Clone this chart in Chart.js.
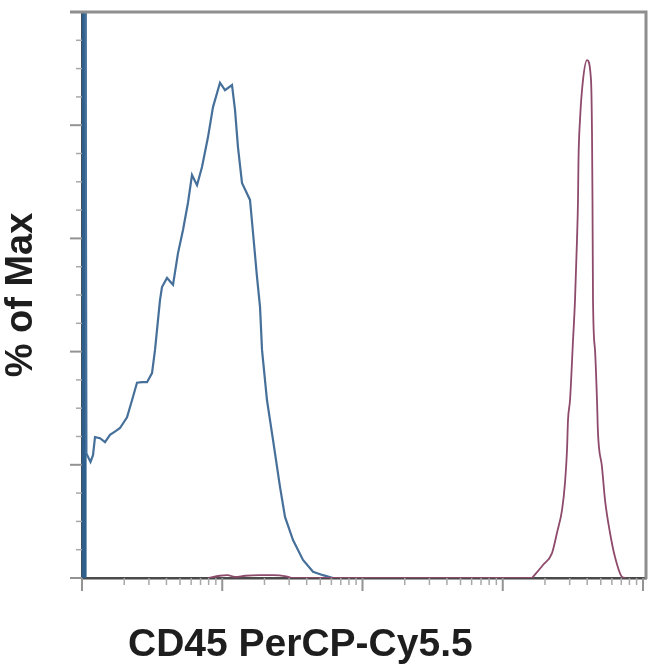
<!DOCTYPE html>
<html>
<head>
<meta charset="utf-8">
<script src="https://cdn.jsdelivr.net/npm/chart.js@4"></script>
<style>
  html, body { margin: 0; padding: 0; background: #fff; }
  #wrap { width: 650px; height: 671px; position: relative; }
</style>
</head>
<body>
<div id="wrap"><canvas id="histo"></canvas></div>
<script>
// CD45 PerCP-Cy5.5 histogram (x log scale, y % of max)
const blueX = [1.035, 1.035, 1.06, 1.075, 1.15, 1.198, 1.238, 1.344, 1.459, 1.584, 1.747, 1.866, 2.094, 2.273, 2.467,
  2.679, 2.908, 3.157, 3.316, 3.483, 3.598, 3.719, 4.037, 4.456, 4.836, 5.25, 5.698, 6.085, 6.607, 7.171,
  7.915, 8.59, 9.638, 10.46, 11.74, 12.33, 12.95, 13.83, 15.77, 16.57, 17.69, 18.59, 19.21, 20.85, 23.01,
  25.81, 28.02, 31.96, 37.65, 44.38, 52.31, 61.63, 70];
const blueY = [0, 100, 100, 22, 20.5, 21.7, 24.9, 24.7, 24.0, 25.3, 26.0, 26.5, 28.4, 31.4, 34.5,
  34.6, 34.6, 36.2, 40.3, 45.6, 49.1, 51.4, 53.0, 51.8, 57.4, 61.5, 66.3, 71.2, 69.4, 72.6,
  77.9, 83.2, 87.5, 86.2, 87.1, 82.7, 76.1, 69.8, 66.8, 61.0, 53.2, 47.9, 40.3, 31.4, 24.4,
  16.1, 10.8, 6.7, 3.2, 1.1, 0.5, 0, 0];

const redX = [8, 9.6, 10.9, 12.3, 14.6, 18.3, 23.2, 28.5, 32, 40, 1617, 1643, 1936, 2245, 2437, 2646, 2779, 2872, 2919,
  3017, 3170, 3275, 3383, 3440, 3468, 3554, 3735, 3988, 4258, 4329, 4364, 4401, 4548, 4699, 4776, 5101,
  5359, 5816, 6316, 7086, 7564];
const redY = [0, 0.4, 0.5, 0.2, 0.4, 0.5, 0.5, 0.3, 0, 0, 0, 0.2, 2.3, 4.4, 8.0, 12.0, 16.8, 22.6, 27.9,
  31.4, 42.0, 49.1, 59.7, 66.8, 73.9, 80.9, 88.0, 91.5, 88.0, 78.6, 66.8, 49.1, 40.3, 31.4, 25.6, 19.6,
  13.8, 8.0, 3.7, 0.2, 0];

const xMajorTicks = [1, 10, 100, 1000, 10000];
const xMinorTicks = [2, 3, 4, 5, 6, 7, 8, 9, 20, 30, 40, 50, 60, 70, 80, 90,
  200, 300, 400, 500, 600, 700, 800, 900, 2000, 3000, 4000, 5000, 6000, 7000, 8000, 9000];
const yMajorTicks = [0, 20, 40, 60, 80, 100];
const yMinorTicks = [5, 10, 15, 25, 30, 35, 45, 50, 55, 65, 70, 75, 85, 90, 95];

const xTitle = 'CD45 PerCP-Cy5.5';
const yTitle = '% of Max';

const toPoints = (xs, ys) => xs.map((x, i) => ({ x, y: ys[i] }));

// tick marks, frame and x title, all placed through the chart's scales
const axisExtras = {
  id: 'axisExtras',
  afterDraw(chart) {
    const { ctx, chartArea: a, scales: { x, y } } = chart;
    ctx.save();
    ctx.lineCap = 'butt';

    ctx.strokeStyle = '#a8a8a8';
    ctx.lineWidth = 1.5;
    const tick = (x1, y1, x2, y2) => { ctx.beginPath(); ctx.moveTo(x1, y1); ctx.lineTo(x2, y2); ctx.stroke(); };
    xMinorTicks.forEach((v) => { const px = x.getPixelForValue(v); tick(px, a.bottom, px, a.bottom + 7); });
    yMinorTicks.forEach((v) => { const py = y.getPixelForValue(v); tick(a.left - 6, py, a.left, py); });
    ctx.strokeStyle = '#939393';
    ctx.lineWidth = 2;
    xMajorTicks.forEach((v) => { const px = x.getPixelForValue(v); tick(px, a.bottom, px, a.bottom + 13); });
    yMajorTicks.forEach((v) => { const py = y.getPixelForValue(v); tick(a.left - 12, py, a.left, py); });

    // top and right frame
    ctx.strokeStyle = '#8e8e8e';
    ctx.lineWidth = 3;
    ctx.beginPath();
    ctx.moveTo(a.left - 12, a.top);
    ctx.lineTo(a.right, a.top);
    ctx.lineTo(a.right, a.bottom + 1);
    ctx.stroke();

    ctx.fillStyle = '#1e1e1e';
    ctx.font = 'bold 39px "Liberation Sans", Arial, sans-serif';
    ctx.textAlign = 'left';
    ctx.textBaseline = 'alphabetic';
    ctx.fillText(xTitle, 128, 656);
    ctx.restore();
  }
};

new Chart(document.getElementById('histo'), {
  type: 'line',
  data: {
    datasets: [
      {
        label: 'isotype',
        data: toPoints(redX, redY),
        borderColor: '#8e4a6c',
        borderWidth: 1.8,
        pointRadius: 0,
        cubicInterpolationMode: 'monotone',
        fill: false,
      },
      {
        label: 'CD45',
        data: toPoints(blueX, blueY),
        borderColor: '#46709a',
        borderWidth: 2.2,
        pointRadius: 0,
        tension: 0,
        fill: false,
        // the pile-up at the low end is drawn as a heavy bar along the axis
        segment: { borderWidth: (c) => (c.p0DataIndex === 0 ? 5 : 2.2), borderColor: (c) => (c.p0DataIndex === 0 ? '#2f5f8c' : '#46709a') },
      },
    ],
  },
  options: {
    responsive: true,
    maintainAspectRatio: false,
    animation: false,
    events: [],
    layout: { padding: { top: 12, right: 4, bottom: 93, left: 0 } },
    plugins: { legend: { display: false }, tooltip: { enabled: false } },
    scales: {
      x: {
        type: 'logarithmic',
        min: 1,
        max: 10505,
        ticks: { display: false },
        grid: { display: false, drawTicks: false },
        border: { display: true, color: '#4a4a4a', width: 2.5 },
        afterFit: (s) => { s.height = 0; },
      },
      y: {
        type: 'linear',
        min: 0,
        max: 100,
        ticks: { display: false },
        grid: { display: false, drawTicks: false },
        border: { display: true, color: '#3f4f5e', width: 2.5 },
        title: {
          display: true,
          text: yTitle,
          color: '#1e1e1e',
          padding: { top: 0, bottom: 0 },
          font: { family: '"Liberation Sans", Arial, sans-serif', size: 38, weight: 'bold', lineHeight: 1.12 },
        },
        afterFit: (s) => { s.width = 82; },
      },
    },
  },
  plugins: [axisExtras],
});
</script>
</body>
</html>
